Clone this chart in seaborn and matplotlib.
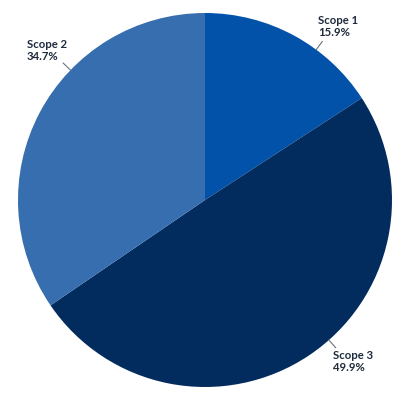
import matplotlib
matplotlib.use("Agg")
import matplotlib.pyplot as plt
import seaborn as sns
import numpy as np

# emissions share by scope
scopes = ["Scope 1", "Scope 3", "Scope 2"]
shares = [15.9, 49.9, 34.7]
colors = ["#0352AA", "#022C5E", "#376EAF"]

sns.set_theme(style="white")
plt.rcParams['font.family'] = ['Lato', 'DejaVu Sans']

fig = plt.figure(figsize=(4, 4), dpi=100)
ax = fig.add_axes([0, 0, 1, 1])

wedges, _ = ax.pie(shares, colors=sns.color_palette(colors), startangle=90,
                   counterclock=False, normalize=True,
                   wedgeprops=dict(linewidth=0))

# label spots (leader start angle on rim, text anchor) in pie units
label_spots = {
    "Scope 1": (53.5, (0.604, 0.93)),
    "Scope 3": (-48.5, (0.684, -0.866)),
    "Scope 2": (136.0, (-0.952, 0.80)),
}
for name, val in zip(scopes, shares):
    ang, (tx, ty) = label_spots[name]
    a = np.deg2rad(ang)
    x0, y0 = np.cos(a), np.sin(a)
    x1, y1 = 1.055 * x0, 1.055 * y0
    ax.plot([x0, x1], [y0, y1], color="#6b7480", lw=0.8)
    ax.text(tx, ty, f"{name}\n{val}%", ha="left", va="center",
            fontsize=8.2, fontweight="bold", color="#1e2b3c", linespacing=1.1)

ax.set_xlim(-205 / 187, 195 / 187)
ax.set_ylim(-200 / 187, 200 / 187)
ax.set_aspect("equal")
ax.axis("off")

fig.savefig("out.png", dpi=100, facecolor="white")
